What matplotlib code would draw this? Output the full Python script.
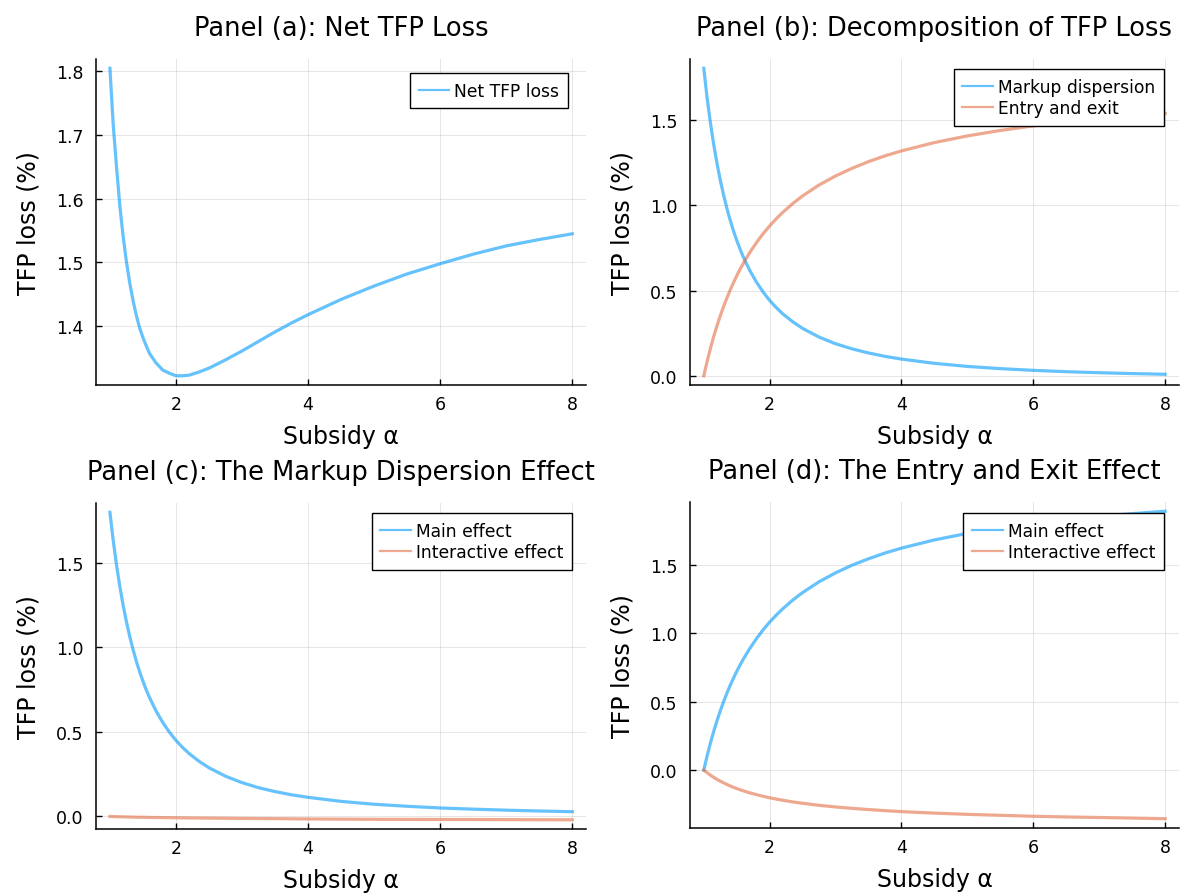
import matplotlib
matplotlib.use("Agg")
import matplotlib.pyplot as plt

# subsidy grid
alpha = [1.0, 1.05, 1.1, 1.15, 1.2, 1.25, 1.3, 1.35, 1.4, 1.45, 1.5, 1.55, 1.6, 1.7,
         1.8, 1.9, 2.0, 2.1, 2.2, 2.35, 2.5, 2.75, 3.0, 3.25, 3.5, 3.75, 4.0, 4.5,
         5.0, 5.5, 6.0, 6.5, 7.0, 7.5, 8.0]

# panel (a)
net_loss = [1.805, 1.716, 1.650, 1.589, 1.541, 1.501, 1.468, 1.440, 1.417, 1.397,
            1.382, 1.369, 1.357, 1.342, 1.331, 1.326, 1.322, 1.322, 1.323, 1.328,
            1.334, 1.347, 1.361, 1.376, 1.391, 1.405, 1.418, 1.442, 1.463, 1.482,
            1.498, 1.513, 1.526, 1.536, 1.545]

# panel (b)
markup_disp = [1.805, 1.632, 1.487, 1.359, 1.248, 1.149, 1.062, 0.984, 0.914, 0.851,
               0.795, 0.744, 0.697, 0.617, 0.549, 0.492, 0.442, 0.400, 0.363, 0.317,
               0.278, 0.227, 0.188, 0.158, 0.134, 0.114, 0.098, 0.073, 0.055, 0.042,
               0.032, 0.024, 0.018, 0.013, 0.009]
entry_exit = [0.0, 0.084, 0.160, 0.230, 0.293, 0.352, 0.406, 0.456, 0.503, 0.546,
              0.587, 0.625, 0.660, 0.725, 0.782, 0.834, 0.880, 0.922, 0.960, 1.011,
              1.056, 1.120, 1.173, 1.218, 1.257, 1.291, 1.320, 1.369, 1.408, 1.440,
              1.467, 1.489, 1.509, 1.525, 1.540]

# panel (c)
markup_main = [1.800, 1.633, 1.488, 1.361, 1.250, 1.152, 1.065, 0.988, 0.918, 0.856,
               0.800, 0.749, 0.703, 0.623, 0.556, 0.499, 0.450, 0.408, 0.372, 0.326,
               0.288, 0.238, 0.200, 0.170, 0.147, 0.128, 0.113, 0.089, 0.072, 0.060,
               0.050, 0.043, 0.037, 0.032, 0.028]
markup_inter = [0.0, -0.001, -0.0015, -0.002, -0.0025, -0.003, -0.0035, -0.004, -0.0045,
                -0.005, -0.005, -0.0055, -0.006, -0.0065, -0.007, -0.0075, -0.008,
                -0.0085, -0.009, -0.0095, -0.010, -0.011, -0.012, -0.0125, -0.013,
                -0.014, -0.015, -0.016, -0.017, -0.0175, -0.018, -0.0185, -0.019,
                -0.0195, -0.020]

# panel (d)
entry_main = [0.0, 0.103, 0.197, 0.282, 0.361, 0.433, 0.500, 0.561, 0.619, 0.672,
              0.722, 0.768, 0.812, 0.891, 0.962, 1.026, 1.083, 1.134, 1.181, 1.244,
              1.299, 1.378, 1.443, 1.499, 1.546, 1.588, 1.624, 1.684, 1.732, 1.771,
              1.804, 1.832, 1.856, 1.876, 1.894]
entry_inter = [0.0, -0.019, -0.037, -0.053, -0.068, -0.081, -0.093, -0.105, -0.116,
               -0.126, -0.135, -0.144, -0.152, -0.167, -0.180, -0.192, -0.203, -0.212,
               -0.221, -0.233, -0.243, -0.258, -0.270, -0.280, -0.289, -0.297, -0.304,
               -0.315, -0.324, -0.331, -0.338, -0.343, -0.347, -0.351, -0.356]

BLUE = "#009AFA"
ORANGE = "#E36F47"

plt.rcParams["font.family"] = ["DejaVu Sans"]

fig = plt.figure(figsize=(11.8, 8.95), dpi=100)

boxes = [
    [0.0814, 0.5687, 0.4153, 0.3642],
    [0.5847, 0.5687, 0.4144, 0.3642],
    [0.0814, 0.0726, 0.4153, 0.3642],
    [0.5847, 0.0738, 0.4144, 0.3642],
]
leg_anchor = [(0.963, 0.957), (0.969, 0.969), (0.971, 0.969), (0.969, 0.966)]

panels = [
    ("Panel (a): Net TFP Loss", [(net_loss, BLUE, "Net TFP loss")], [1.4, 1.5, 1.6, 1.7, 1.8]),
    ("Panel (b): Decomposition of TFP Loss",
     [(markup_disp, BLUE, "Markup dispersion"), (entry_exit, ORANGE, "Entry and exit")],
     [0.0, 0.5, 1.0, 1.5]),
    ("Panel (c): The Markup Dispersion Effect",
     [(markup_main, BLUE, "Main effect"), (markup_inter, ORANGE, "Interactive effect")],
     [0.0, 0.5, 1.0, 1.5]),
    ("Panel (d): The Entry and Exit Effect",
     [(entry_main, BLUE, "Main effect"), (entry_inter, ORANGE, "Interactive effect")],
     [0.0, 0.5, 1.0, 1.5]),
]

for box, anchor, (title, series, yticks) in zip(boxes, leg_anchor, panels):
    ax = fig.add_axes(box)
    for ys, col, lab in series:
        ax.plot(alpha, ys, color=col, alpha=0.6, lw=2.3, label=lab, solid_joinstyle="round")
    ax.margins(x=0.03, y=0.03)
    ax.set_xticks([2, 4, 6, 8])
    ax.set_yticks(yticks)
    ax.set_yticklabels([f"{t:.1f}" for t in yticks])
    ax.grid(True, color="#000000", alpha=0.1, lw=0.7)
    ax.set_axisbelow(True)
    for s in ["top", "right"]:
        ax.spines[s].set_visible(False)
    for s in ["left", "bottom"]:
        ax.spines[s].set_linewidth(1.1)
    ax.tick_params(direction="in", length=4, width=1.0, labelsize=12.5)
    ax.tick_params(axis="x", pad=7)
    ax.tick_params(axis="y", pad=9)
    ax.set_title(title, fontsize=18.5, pad=17)
    ax.set_xlabel("Subsidy α", fontsize=17, labelpad=8)
    ax.set_ylabel("TFP loss (%)", fontsize=17, labelpad=11)
    leg = ax.legend(loc="upper right", bbox_to_anchor=anchor, borderaxespad=0,
                    fontsize=12.3, fancybox=False, framealpha=1, edgecolor="black",
                    handlelength=1.8, handletextpad=0.3, labelspacing=0.2,
                    borderpad=0.5)
    leg.get_frame().set_linewidth(1.0)
    for h in leg.get_lines():
        h.set_linewidth(1.6)

fig.savefig("out.png", dpi=100)
